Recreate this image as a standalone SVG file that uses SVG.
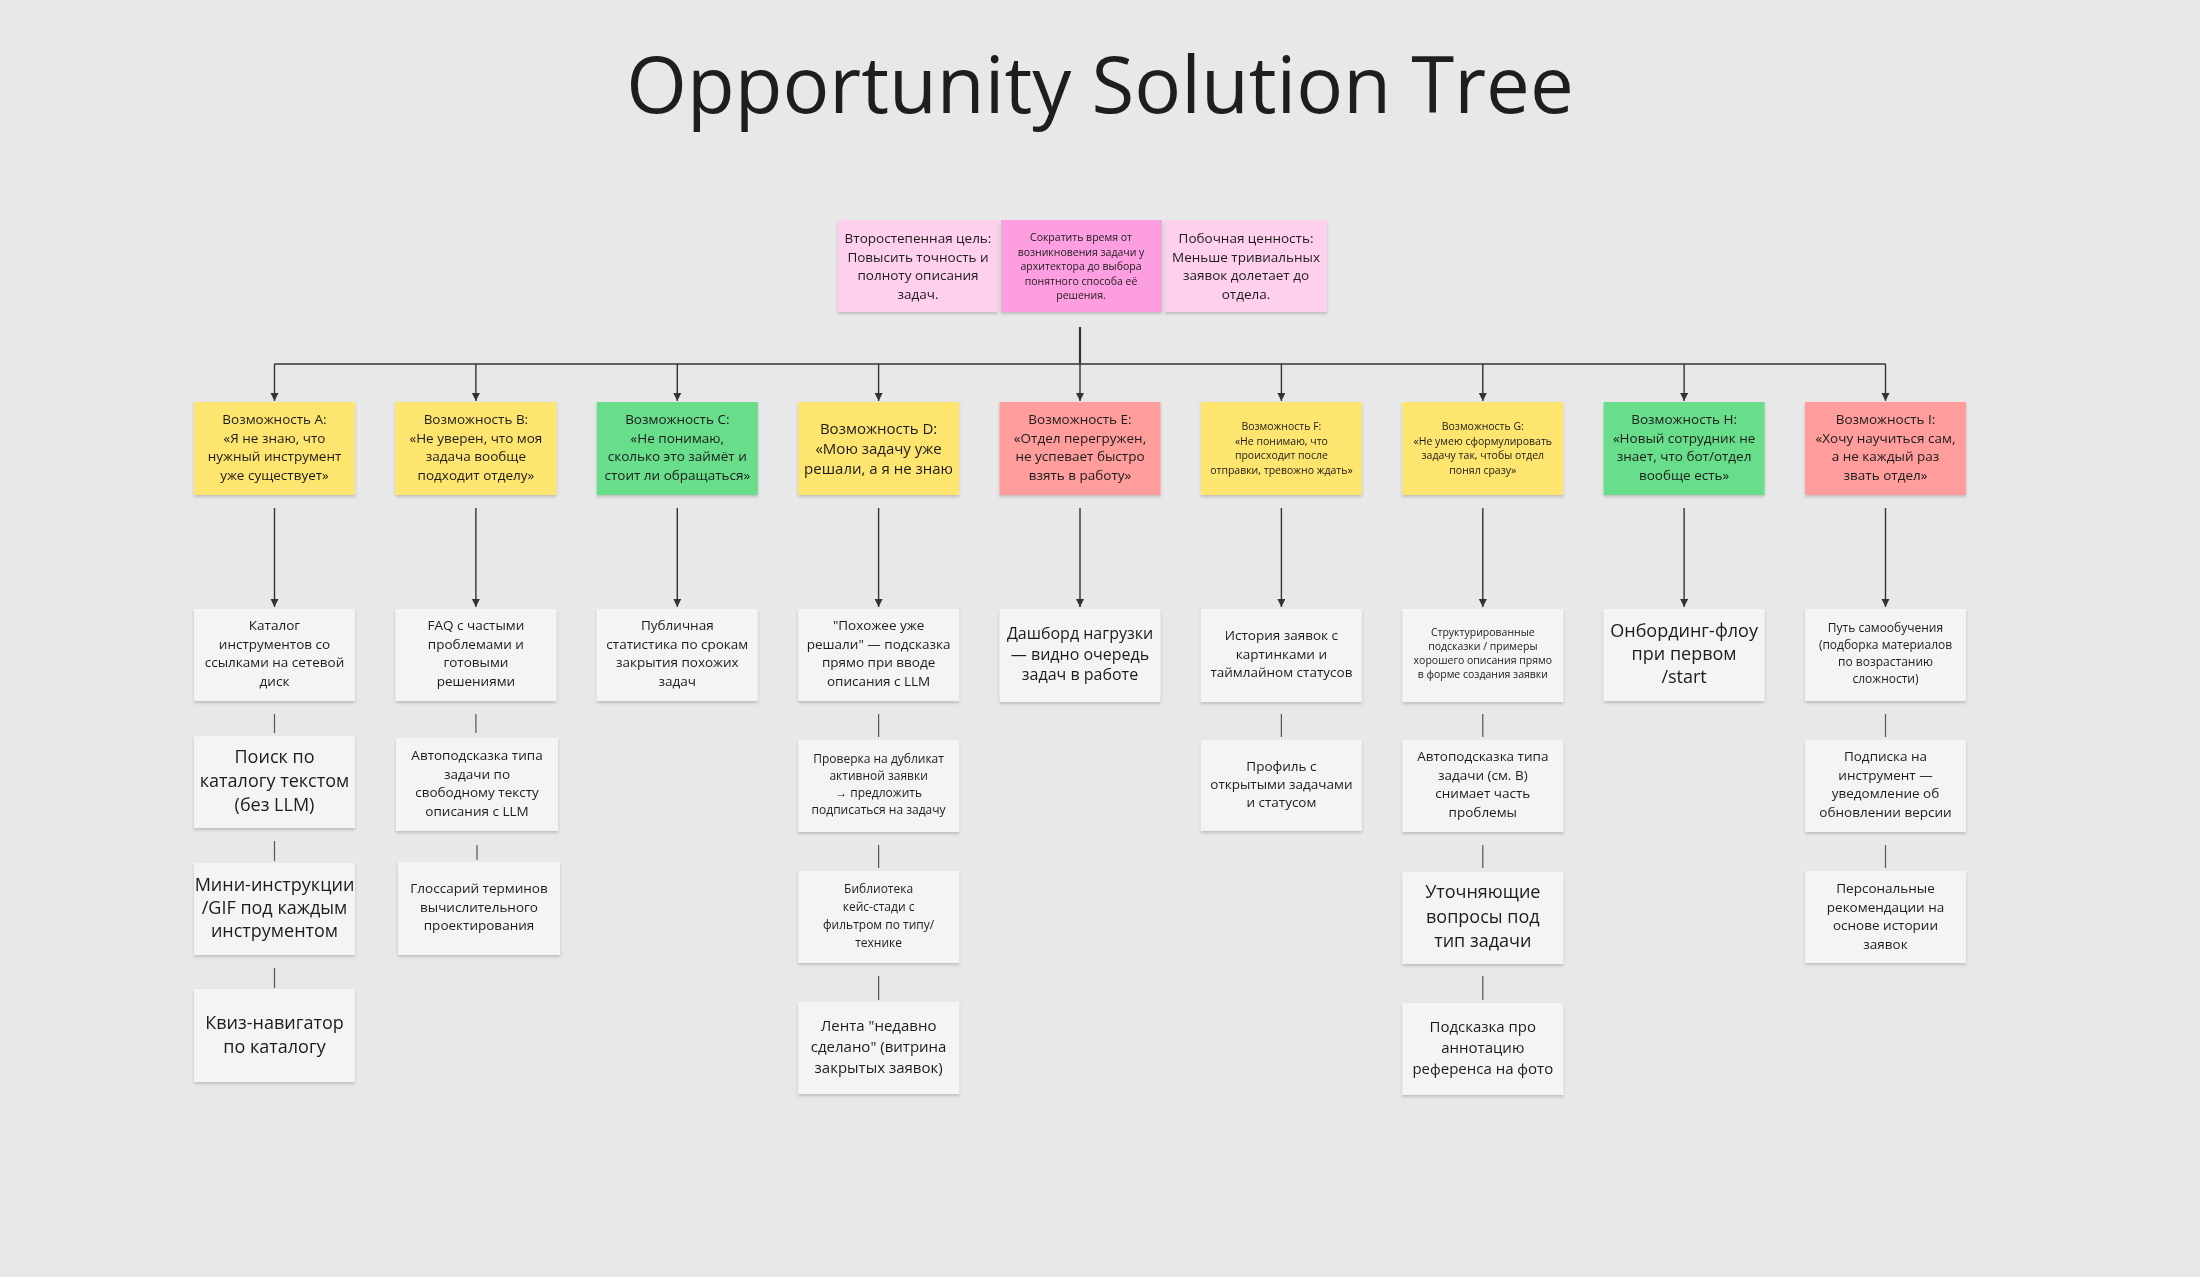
<svg xmlns="http://www.w3.org/2000/svg" width="2200" height="1277" viewBox="0 0 2200 1277">
<style>
text{font-family:"Open Sans","Noto Sans","Liberation Sans",sans-serif;fill:#1c1c1c;text-anchor:middle}
.t14{font-size:13.5px}.t10{font-size:10.5px}.t12{font-size:12px}.t18{font-size:18px}
.y{fill:#fee56f}.g{fill:#67de8b}.r{fill:#ff9c9c}.w{fill:#f4f4f4}.p1{fill:#ffd0ee}.p2{fill:#fd9ee0}
.c{stroke:#333;stroke-width:1.4;fill:none}
</style>
<defs>
<filter id="sh" x="-10%" y="-10%" width="120%" height="130%"><feDropShadow dx="0" dy="2" stdDeviation="1.5" flood-color="#000" flood-opacity="0.18"/></filter>
<marker id="ar" markerWidth="10" markerHeight="10" refX="8" refY="4" orient="auto" markerUnits="userSpaceOnUse"><path d="M0,0 L8,4 L0,8 Z" fill="#333"/></marker>
</defs>
<rect width="2200" height="1277" fill="#e8e8e8"/>
<text x="1100" y="113" style="font-size:78px;fill:#1e1e1e">Opportunity Solution Tree</text>

<g id="connectors">
<path class="c" d="M1080 327 V364" style="stroke-width:2.2"/>
<path class="c" d="M274.5 364 H1885.5"/>
<path class="c" d="M274.5 364 V401" marker-end="url(#ar)"/>
<path class="c" d="M475.9 364 V401" marker-end="url(#ar)"/>
<path class="c" d="M677.3 364 V401" marker-end="url(#ar)"/>
<path class="c" d="M878.6 364 V401" marker-end="url(#ar)"/>
<path class="c" d="M1080 364 V401" marker-end="url(#ar)"/>
<path class="c" d="M1281.4 364 V401" marker-end="url(#ar)"/>
<path class="c" d="M1482.8 364 V401" marker-end="url(#ar)"/>
<path class="c" d="M1684.1 364 V401" marker-end="url(#ar)"/>
<path class="c" d="M1885.5 364 V401" marker-end="url(#ar)"/>
<path class="c" d="M274.5 508 V607" marker-end="url(#ar)"/>
<path class="c" d="M475.9 508 V607" marker-end="url(#ar)"/>
<path class="c" d="M677.3 508 V607" marker-end="url(#ar)"/>
<path class="c" d="M878.6 508 V607" marker-end="url(#ar)"/>
<path class="c" d="M1080 508 V607" marker-end="url(#ar)"/>
<path class="c" d="M1281.4 508 V607" marker-end="url(#ar)"/>
<path class="c" d="M1482.8 508 V607" marker-end="url(#ar)"/>
<path class="c" d="M1684.1 508 V607" marker-end="url(#ar)"/>
<path class="c" d="M1885.5 508 V607" marker-end="url(#ar)"/>
<g style="stroke:#555;stroke-width:1.2;fill:none">
<path d="M274.5 714 V733 M274.5 841 V861 M274.5 968 V988"/>
<path d="M475.9 714 V733 M477 845 V860"/>
<path d="M878.6 714 V737 M878.6 845 V868 M878.6 976 V1000"/>
<path d="M1281.4 714 V737"/>
<path d="M1482.8 714 V737 M1482.8 845 V868 M1482.8 976 V1000"/>
<path d="M1885.5 714 V737 M1885.5 845 V868"/>
</g>
</g>

<g id="root-left" filter="url(#sh)"><rect class="p1" x="838" y="220" width="160" height="92"/>
<text class="t14" x="918"><tspan x="918" y="243">Второстепенная цель:</tspan><tspan x="918" y="261.5">Повысить точность и</tspan><tspan x="918" y="280">полноту описания</tspan><tspan x="918" y="298.5">задач.</tspan></text></g>
<g id="root" filter="url(#sh)"><rect class="p2" x="1001" y="220" width="161" height="92"/>
<text class="t10" x="1081"><tspan x="1081" y="241">Сократить время от</tspan><tspan x="1081" y="255.5">возникновения задачи у</tspan><tspan x="1081" y="270">архитектора до выбора</tspan><tspan x="1081" y="284.5">понятного способа её</tspan><tspan x="1081" y="299">решения.</tspan></text></g>
<g id="root-right" filter="url(#sh)"><rect class="p1" x="1165" y="220" width="162" height="92"/>
<text class="t14" x="1246"><tspan x="1246" y="243">Побочная ценность:</tspan><tspan x="1246" y="261.5">Меньше тривиальных</tspan><tspan x="1246" y="280">заявок долетает до</tspan><tspan x="1246" y="298.5">отдела.</tspan></text></g>

<g id="opp-a" filter="url(#sh)"><rect class="y" x="194" y="402" width="161" height="93"/>
<text class="t14"><tspan x="274.5" y="424">Возможность A:</tspan><tspan x="274.5" y="442.5">«Я не знаю, что</tspan><tspan x="274.5" y="461">нужный инструмент</tspan><tspan x="274.5" y="479.5">уже существует»</tspan></text></g>
<g id="opp-b" filter="url(#sh)"><rect class="y" x="395.4" y="402" width="161" height="93"/>
<text class="t14"><tspan x="475.9" y="424">Возможность B:</tspan><tspan x="475.9" y="442.5">«Не уверен, что моя</tspan><tspan x="475.9" y="461">задача вообще</tspan><tspan x="475.9" y="479.5">подходит отделу»</tspan></text></g>
<g id="opp-c" filter="url(#sh)"><rect class="g" x="596.8" y="402" width="161" height="93"/>
<text class="t14"><tspan x="677.3" y="424">Возможность C:</tspan><tspan x="677.3" y="442.5">«Не понимаю,</tspan><tspan x="677.3" y="461">сколько это займёт и</tspan><tspan x="677.3" y="479.5">стоит ли обращаться»</tspan></text></g>
<g id="opp-d" filter="url(#sh)"><rect class="y" x="798.1" y="402" width="161" height="93"/>
<text style="font-size:15px"><tspan x="878.6" y="434">Возможность D:</tspan><tspan x="878.6" y="472" dy="-18">«Мою задачу уже</tspan><tspan x="878.6" y="474">решали, а я не знаю</tspan></text></g>
<g id="opp-e" filter="url(#sh)"><rect class="r" x="999.5" y="402" width="161" height="93"/>
<text class="t14"><tspan x="1080" y="424">Возможность E:</tspan><tspan x="1080" y="442.5">«Отдел перегружен,</tspan><tspan x="1080" y="461">не успевает быстро</tspan><tspan x="1080" y="479.5">взять в работу»</tspan></text></g>
<g id="opp-f" filter="url(#sh)"><rect class="y" x="1200.9" y="402" width="161" height="93"/>
<text class="t10"><tspan x="1281.4" y="430">Возможность F:</tspan><tspan x="1281.4" y="444.5">«Не понимаю, что</tspan><tspan x="1281.4" y="459">происходит после</tspan><tspan x="1281.4" y="473.5">отправки, тревожно ждать»</tspan></text></g>
<g id="opp-g" filter="url(#sh)"><rect class="y" x="1402.3" y="402" width="161" height="93"/>
<text class="t10"><tspan x="1482.8" y="430">Возможность G:</tspan><tspan x="1482.8" y="444.5">«Не умею сформулировать</tspan><tspan x="1482.8" y="459">задачу так, чтобы отдел</tspan><tspan x="1482.8" y="473.5">понял сразу»</tspan></text></g>
<g id="opp-h" filter="url(#sh)"><rect class="g" x="1603.6" y="402" width="161" height="93"/>
<text class="t14"><tspan x="1684.1" y="424">Возможность H:</tspan><tspan x="1684.1" y="442.5">«Новый сотрудник не</tspan><tspan x="1684.1" y="461">знает, что бот/отдел</tspan><tspan x="1684.1" y="479.5">вообще есть»</tspan></text></g>
<g id="opp-i" filter="url(#sh)"><rect class="r" x="1805" y="402" width="161" height="93"/>
<text class="t14"><tspan x="1885.5" y="424">Возможность I:</tspan><tspan x="1885.5" y="442.5">«Хочу научиться сам,</tspan><tspan x="1885.5" y="461">а не каждый раз</tspan><tspan x="1885.5" y="479.5">звать отдел»</tspan></text></g>

<!-- solutions col A -->
<g id="sa1" filter="url(#sh)"><rect class="w" x="194" y="609" width="161" height="92"/>
<text class="t14"><tspan x="274.5" y="630">Каталог</tspan><tspan x="274.5" y="648.5">инструментов со</tspan><tspan x="274.5" y="667">ссылками на сетевой</tspan><tspan x="274.5" y="685.5">диск</tspan></text></g>
<g id="sa2" filter="url(#sh)"><rect class="w" x="194" y="736" width="161" height="92"/>
<text class="t18"><tspan x="274.5" y="763">Поиск по</tspan><tspan x="274.5" y="787">каталогу текстом</tspan><tspan x="274.5" y="811">(без LLM)</tspan></text></g>
<g id="sa3" filter="url(#sh)"><rect class="w" x="194" y="863" width="161" height="92"/>
<text class="t18"><tspan x="274.5" y="891">Мини-инструкции</tspan><tspan x="274.5" y="914">/GIF под каждым</tspan><tspan x="274.5" y="937">инструментом</tspan></text></g>
<g id="sa4" filter="url(#sh)"><rect class="w" x="194" y="989" width="161" height="93"/>
<text class="t18"><tspan x="274.5" y="1029">Квиз-навигатор</tspan><tspan x="274.5" y="1053">по каталогу</tspan></text></g>

<!-- col B -->
<g id="sb1" filter="url(#sh)"><rect class="w" x="395.4" y="609" width="161" height="92"/>
<text class="t14"><tspan x="475.9" y="630">FAQ с частыми</tspan><tspan x="475.9" y="648.5">проблемами и</tspan><tspan x="475.9" y="667">готовыми</tspan><tspan x="475.9" y="685.5">решениями</tspan></text></g>
<g id="sb2" filter="url(#sh)"><rect class="w" x="396" y="738" width="162" height="93"/>
<text class="t14"><tspan x="477" y="760">Автоподсказка типа</tspan><tspan x="477" y="778.5">задачи по</tspan><tspan x="477" y="797">свободному тексту</tspan><tspan x="477" y="815.5">описания с LLM</tspan></text></g>
<g id="sb3" filter="url(#sh)"><rect class="w" x="398" y="862" width="162" height="93"/>
<text class="t14"><tspan x="479" y="893">Глоссарий терминов</tspan><tspan x="479" y="911.5">вычислительного</tspan><tspan x="479" y="930">проектирования</tspan></text></g>

<!-- col C -->
<g id="sc1" filter="url(#sh)"><rect class="w" x="596.8" y="609" width="161" height="92"/>
<text class="t14"><tspan x="677.3" y="630">Публичная</tspan><tspan x="677.3" y="648.5">статистика по срокам</tspan><tspan x="677.3" y="667">закрытия похожих</tspan><tspan x="677.3" y="685.5">задач</tspan></text></g>

<!-- col D -->
<g id="sd1" filter="url(#sh)"><rect class="w" x="798.1" y="609" width="161" height="92"/>
<text class="t14"><tspan x="878.6" y="630">"Похожее уже</tspan><tspan x="878.6" y="648.5">решали" — подсказка</tspan><tspan x="878.6" y="667">прямо при вводе</tspan><tspan x="878.6" y="685.5">описания с LLM</tspan></text></g>
<g id="sd2" filter="url(#sh)"><rect class="w" x="798.1" y="740" width="161" height="92"/>
<text class="t12"><tspan x="878.6" y="763">Проверка на дубликат</tspan><tspan x="878.6" y="780">активной заявки</tspan><tspan x="878.6" y="797">→ предложить</tspan><tspan x="878.6" y="814">подписаться на задачу</tspan></text></g>
<g id="sd3" filter="url(#sh)"><rect class="w" x="798.1" y="871" width="161" height="92"/>
<text class="t12"><tspan x="878.6" y="893">Библиотека</tspan><tspan x="878.6" y="911">кейс-стади с</tspan><tspan x="878.6" y="929">фильтром по типу/</tspan><tspan x="878.6" y="947">технике</tspan></text></g>
<g id="sd4" filter="url(#sh)"><rect class="w" x="798.1" y="1002" width="161" height="92"/>
<text class="t14" style="font-size:15px"><tspan x="878.6" y="1031">Лента "недавно</tspan><tspan x="878.6" y="1052">сделано" (витрина</tspan><tspan x="878.6" y="1073">закрытых заявок)</tspan></text></g>

<!-- col E -->
<g id="se1" filter="url(#sh)"><rect class="w" x="999.5" y="609" width="161" height="93"/>
<text style="font-size:16px"><tspan x="1080" y="639">Дашборд нагрузки</tspan><tspan x="1080" y="659.5">— видно очередь</tspan><tspan x="1080" y="680">задач в работе</tspan></text></g>

<!-- col F -->
<g id="sf1" filter="url(#sh)"><rect class="w" x="1200.9" y="609" width="161" height="93"/>
<text class="t14"><tspan x="1281.4" y="640">История заявок с</tspan><tspan x="1281.4" y="658.5">картинками и</tspan><tspan x="1281.4" y="677">таймлайном статусов</tspan></text></g>
<g id="sf2" filter="url(#sh)"><rect class="w" x="1200.9" y="740" width="161" height="91"/>
<text class="t14"><tspan x="1281.4" y="771">Профиль с</tspan><tspan x="1281.4" y="789">открытыми задачами</tspan><tspan x="1281.4" y="807">и статусом</tspan></text></g>

<!-- col G -->
<g id="sg1" filter="url(#sh)"><rect class="w" x="1402.3" y="609" width="161" height="93"/>
<text class="t10"><tspan x="1482.8" y="636">Структурированные</tspan><tspan x="1482.8" y="650">подсказки / примеры</tspan><tspan x="1482.8" y="664">хорошего описания прямо</tspan><tspan x="1482.8" y="678">в форме создания заявки</tspan></text></g>
<g id="sg2" filter="url(#sh)"><rect class="w" x="1402.3" y="740" width="161" height="92"/>
<text class="t14"><tspan x="1482.8" y="761">Автоподсказка типа</tspan><tspan x="1482.8" y="779.5">задачи (см. B)</tspan><tspan x="1482.8" y="798">снимает часть</tspan><tspan x="1482.8" y="816.5">проблемы</tspan></text></g>
<g id="sg3" filter="url(#sh)"><rect class="w" x="1402.3" y="872" width="161" height="92"/>
<text class="t18"><tspan x="1482.8" y="898">Уточняющие</tspan><tspan x="1482.8" y="923">вопросы под</tspan><tspan x="1482.8" y="947">тип задачи</tspan></text></g>
<g id="sg4" filter="url(#sh)"><rect class="w" x="1402.3" y="1003" width="161" height="92"/>
<text class="t14" style="font-size:15px"><tspan x="1482.8" y="1032">Подсказка про</tspan><tspan x="1482.8" y="1053">аннотацию</tspan><tspan x="1482.8" y="1074">референса на фото</tspan></text></g>

<!-- col H -->
<g id="sh1" filter="url(#sh)"><rect class="w" x="1603.6" y="609" width="161" height="92"/>
<text class="t18"><tspan x="1684.1" y="637">Онбординг-флоу</tspan><tspan x="1684.1" y="660">при первом</tspan><tspan x="1684.1" y="683">/start</tspan></text></g>

<!-- col I -->
<g id="si1" filter="url(#sh)"><rect class="w" x="1805" y="609" width="161" height="92"/>
<text class="t12"><tspan x="1885.5" y="632">Путь самообучения</tspan><tspan x="1885.5" y="649">(подборка материалов</tspan><tspan x="1885.5" y="666">по возрастанию</tspan><tspan x="1885.5" y="683">сложности)</tspan></text></g>
<g id="si2" filter="url(#sh)"><rect class="w" x="1805" y="740" width="161" height="92"/>
<text class="t14"><tspan x="1885.5" y="761">Подписка на</tspan><tspan x="1885.5" y="779.5">инструмент —</tspan><tspan x="1885.5" y="798">уведомление об</tspan><tspan x="1885.5" y="816.5">обновлении версии</tspan></text></g>
<g id="si3" filter="url(#sh)"><rect class="w" x="1805" y="871" width="161" height="92"/>
<text class="t14"><tspan x="1885.5" y="893">Персональные</tspan><tspan x="1885.5" y="911.5">рекомендации на</tspan><tspan x="1885.5" y="930">основе истории</tspan><tspan x="1885.5" y="948.5">заявок</tspan></text></g>
</svg>
